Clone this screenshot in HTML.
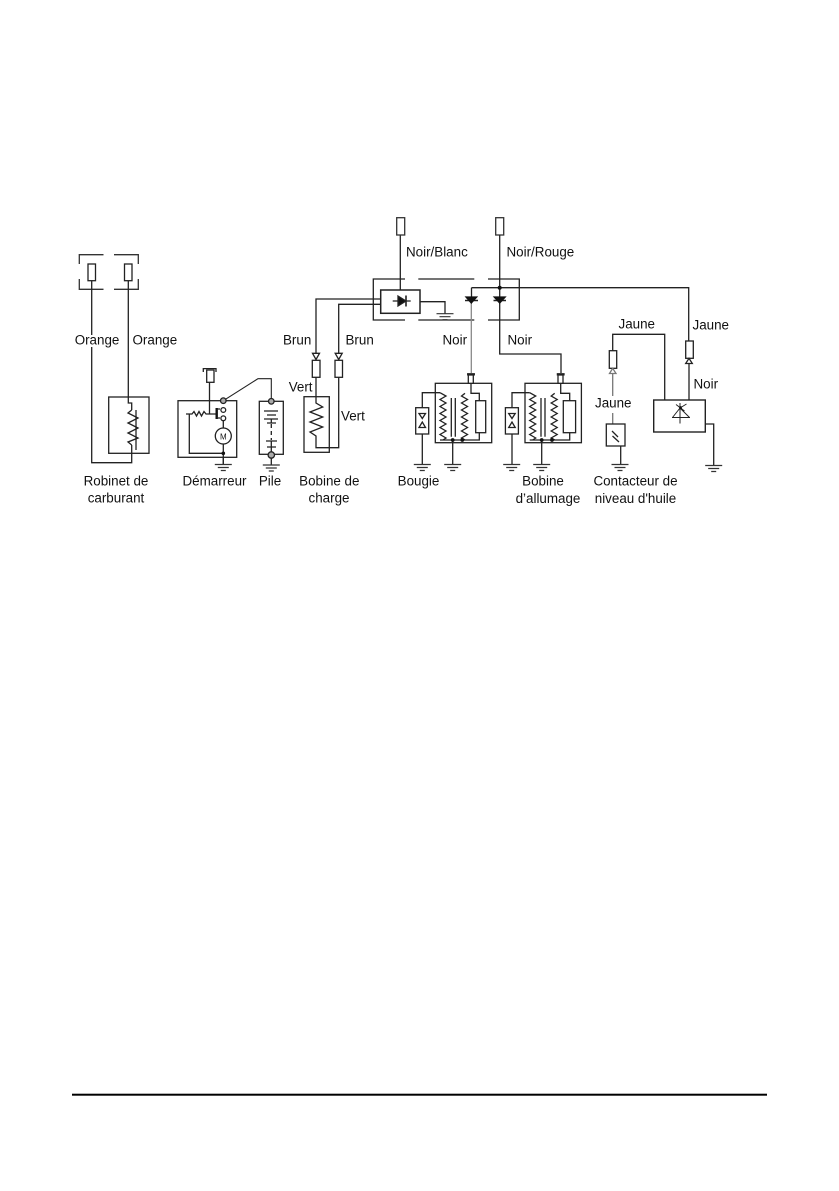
<!DOCTYPE html>
<html><head><meta charset="utf-8">
<style>
html,body{margin:0;padding:0;background:#fff;width:839px;height:1191px;overflow:hidden}
svg{display:block}
text{font-family:"Liberation Sans",sans-serif;font-size:13.4px;fill:#111}
.m{text-anchor:middle}
.soft{filter:blur(0.35px)}
</style></head>
<body>
<svg width="839" height="1191" viewBox="0 0 839 1191" xmlns="http://www.w3.org/2000/svg">
<defs>
<g id="gnd" fill="none" stroke="#333" stroke-width="1.2">
<path d="M-8.5 0H8.5M-5.5 3H5.5M-2.5 6H2.5"/>
</g>
</defs>

<g class="soft">
<g fill="none" stroke="#222" stroke-width="1.3">
<!-- Robinet -->
<path d="M79.3 264V254.7H103.5M114 254.7H138.3V264M79.3 279V289.3H103.5M114 289.3H138.3V279" stroke="#333"/>
<rect x="88" y="264" width="7.5" height="16.7" fill="#fff"/>
<rect x="124.5" y="264" width="7.5" height="16.7" fill="#fff"/>
<path d="M91.7 280.7V462.7H131.7V445"/>
<path d="M128.3 280.7V403H131.7V410"/>
<rect x="108.7" y="397" width="40.3" height="56.3"/>
<path d="M131.7 410L128 413L138 418L128 423L138 428L128 433L138 438L128 442L131.7 445"/>
<path d="M136 410V450"/>

<!-- Démarreur -->
<rect x="178" y="400.7" width="58.7" height="56.6"/>
<path d="M203.3 372V368.6H216V372"/>
<rect x="206.7" y="370" width="7.3" height="12.3" fill="#fff"/>
<path d="M209.5 382.3V414"/>
<path d="M186 414H192L194 411.5L196.5 416L199 411.5L201.5 416L204 411.5L206 414H216.7"/>
<path d="M189.3 414V453.3H223.3V464"/>
<path d="M216.7 408V419" stroke-width="2.4" stroke="#111"/>
<path d="M216.7 409H220M216.7 418H220"/>
<circle cx="223.3" cy="410" r="2.4" fill="#fff"/>
<circle cx="223.3" cy="418.3" r="2.4" fill="#fff"/>
<path d="M223.3 420.7V428M223.3 444V453"/>
<circle cx="223.3" cy="436" r="8" fill="#fff"/>
<circle cx="223.3" cy="453.3" r="1.8" fill="#111" stroke="none"/>
<path d="M223.3 400.7L258 378.7H271.3V401" stroke-width="1.1"/>
<circle cx="223.3" cy="400.7" r="2.8" fill="#aaa"/>
<!-- Pile -->
<rect x="259.3" y="401.3" width="24" height="53"/>
<circle cx="271.3" cy="401.3" r="2.8" fill="#aaa"/>
<circle cx="271.3" cy="455" r="3.2" fill="#aaa"/>
<path d="M264 411H278M267 415H276M264 419H278M271.3 419V423M267 423H276"/>
<path d="M271.3 424V440" stroke-dasharray="4 3"/>
<path d="M266 441H277M271.3 441V447M267 447H276M271.3 447V452M271.3 458V465"/>

<!-- Boite centrale -->
<path d="M405 279H373.3V320H405M418.3 279H474.3M488 279H519.3V320H488M418.3 320H474.3"/>
<rect x="380.7" y="290" width="39.3" height="23.3" stroke-width="1.5"/>
<path d="M400.3 235V290" />
<path d="M392.7 301H410.7"/>
<path d="M398 296L406 301L398 306Z" fill="#111"/>
<path d="M406 295.5V306.5" stroke-width="1.6"/>
<path d="M420 301.7H445V313.5"/>
<rect x="396.7" y="217.7" width="8" height="17.3" fill="#fff" stroke="#333"/>
<rect x="495.7" y="217.7" width="8" height="17.3" fill="#fff" stroke="#333"/>

<path d="M380.7 299H316V353.3"/>
<path d="M380.7 304.3H338.7V353.3"/>
<path d="M312.5 353.3H319.5L316 359.5Z" fill="#fff"/>
<path d="M335.2 353.3H342.2L338.7 359.5Z" fill="#fff"/>
<rect x="312.3" y="360.3" width="7.7" height="17" fill="#fff"/>
<rect x="335" y="360.3" width="7.5" height="17" fill="#fff"/>

<!-- diodes -->
<path d="M471.5 287.7H688.7V341"/>
<path d="M499.7 235V354H561V373"/>
<path d="M471.5 287.7V299"/>
<path d="M471.3 299V373" stroke="#888"/>
<path d="M465 300.5H478M493.5 300.5H506" stroke-width="1.4"/>
<path d="M466 297H476.7L471.3 303ZM494.2 297H505.2L499.7 303Z" fill="#111" stroke="#111"/>
<circle cx="499.7" cy="287.7" r="2" fill="#111" stroke="none"/>

<!-- Bobine de charge -->
<rect x="304" y="396.7" width="25.3" height="55.6"/>
<path d="M316 377.3V403L322.7 407L310 412L322.7 417L310 422L322.7 427L310 432L316 436V447.7H338.7V377.3"/>

<!-- Jaune -->
<path d="M612.7 350.7V334.3H664.7V400"/>
<rect x="609.3" y="350.7" width="7.4" height="17.6" fill="#fff"/>
<path d="M612.7 368.3L609.5 373.5H616L612.7 368.3Z" fill="#fff" stroke="#777"/>
<path d="M612.7 373.5V396M612.7 413V424" stroke="#777"/>
<rect x="606.3" y="424" width="18.7" height="22"/>
<path d="M612 431L618 437M612.5 436L619 442"/>
<path d="M620.7 446V464"/>

<rect x="685.7" y="341" width="7.6" height="17.3" fill="#fff"/>
<path d="M689 358.3L685.7 363.5H692.3Z" fill="#fff"/>
<path d="M689 363.5V400"/>
<rect x="653.7" y="400" width="51.6" height="32" stroke-width="1.4"/>
<path d="M680 403V423.5M672 417.5H690M680 408L672.5 417.5M680 408L689.5 417.5M680 408L686.5 404M676 404.5L684.5 411" stroke-width="1"/>
<path d="M680 406.5L681 409" stroke-width="2.5" stroke="#111"/>
<path d="M705.3 424H713.7V465"/>
</g>

<!-- Bobines allumage -->
<g fill="none" stroke="#222" stroke-width="1.3">
<g>
<rect x="435.3" y="383.3" width="56.4" height="59.4"/>
<path d="M467.7 375.5V373.8H474.3V375.5"/>
<rect x="468.3" y="375" width="5" height="8.3" fill="#fff"/>
<path d="M422.3 407.7V392.7H440M422.3 434V464.3"/>
<rect x="415.7" y="407.7" width="13" height="26.3"/>
<path d="M419 413.5H425.5L422.3 418.5Z" fill="#fff"/>
<path d="M419 427.5H425.5L422.3 422Z" fill="#fff"/>
<path d="M440 392.7L446 396L440 399.5L446 403L440 406.5L446 410L440 413.5L446 417L440 420.5L446 424L440 427.5L446 431L440 434.5L446 438L443 440"/>
<path d="M451.3 398V436.7M455.3 398V436.7"/>
<path d="M465 393.3L461.5 396L467.5 399.5L461.5 403L467.5 406.5L461.5 410L467.5 413.5L461.5 417L467.5 420.5L461.5 424L467.5 427.5L461.5 431L467.5 434.5L461.5 438L465 440"/>
<path d="M471 383.3V393.3H479.3V400.7M479.3 432.7V440H440"/>
<rect x="475.7" y="400.7" width="10" height="32"/>
<path d="M452.7 440V464.3"/>
<circle cx="452.7" cy="440" r="1.9" fill="#111" stroke="none"/>
<circle cx="462.3" cy="440" r="1.9" fill="#111" stroke="none"/>
</g>
<g transform="translate(89.7 0)">
<rect x="435.3" y="383.3" width="56.4" height="59.4"/>
<path d="M467.7 375.5V373.8H474.3V375.5"/>
<rect x="468.3" y="375" width="5" height="8.3" fill="#fff"/>
<path d="M422.3 407.7V392.7H440M422.3 434V464.3"/>
<rect x="415.7" y="407.7" width="13" height="26.3"/>
<path d="M419 413.5H425.5L422.3 418.5Z" fill="#fff"/>
<path d="M419 427.5H425.5L422.3 422Z" fill="#fff"/>
<path d="M440 392.7L446 396L440 399.5L446 403L440 406.5L446 410L440 413.5L446 417L440 420.5L446 424L440 427.5L446 431L440 434.5L446 438L443 440"/>
<path d="M451.3 398V436.7M455.3 398V436.7"/>
<path d="M465 393.3L461.5 396L467.5 399.5L461.5 403L467.5 406.5L461.5 410L467.5 413.5L461.5 417L467.5 420.5L461.5 424L467.5 427.5L461.5 431L467.5 434.5L461.5 438L465 440"/>
<path d="M471 383.3V393.3H480V400.7M480 432.7V440H440"/>
<rect x="473.6" y="400.7" width="12.3" height="32"/>
<path d="M452 440V464.3"/>
<circle cx="452" cy="440" r="1.9" fill="#111" stroke="none"/>
<circle cx="462.3" cy="440" r="1.9" fill="#111" stroke="none"/>
</g>
</g>

<!-- grounds -->
<path d="M223.3 457.3V464" stroke="#222" stroke-width="1.3"/>
<use href="#gnd" x="223.3" y="464.5"/>
<use href="#gnd" x="271.3" y="465"/>
<use href="#gnd" x="445" y="313.7"/>
<use href="#gnd" x="422.3" y="464.5"/>
<use href="#gnd" x="452.7" y="464.5"/>
<use href="#gnd" x="511.7" y="464.5"/>
<use href="#gnd" x="541.7" y="464.5"/>
<use href="#gnd" x="620" y="464.5"/>
<use href="#gnd" x="713.7" y="465.5"/>

<!-- M -->
<text x="223.3" y="439.5" class="m" style="font-size:8px">M</text>

<!-- labels on wires -->
<rect x="74" y="335" width="44" height="12" fill="#fff"/>
<text x="74.7" y="344.5">Orange</text>
<text x="132.5" y="344.5">Orange</text>
<text x="283" y="344.5">Brun</text>
<text x="345.5" y="344.5">Brun</text>
<text x="442.5" y="344.5">Noir</text>
<text x="507.5" y="344.5">Noir</text>
<text x="406" y="256.5">Noir/Blanc</text>
<text x="506.5" y="256.5">Noir/Rouge</text>
<text x="288.7" y="391.5">Vert</text>
<text x="341" y="420.5">Vert</text>
<text x="618.5" y="328.5">Jaune</text>
<text x="692.5" y="329.5">Jaune</text>
<text x="693.5" y="388.5">Noir</text>
<text x="595" y="407.5">Jaune</text>

<text x="116" y="485.5" class="m">Robinet de</text>
<text x="116" y="502.5" class="m">carburant</text>
<text x="214.5" y="485.5" class="m">Démarreur</text>
<text x="270" y="485.5" class="m">Pile</text>
<text x="329.3" y="485.5" class="m">Bobine de</text>
<text x="329" y="502.5" class="m">charge</text>
<text x="418.5" y="485.5" class="m">Bougie</text>
<text x="543" y="485.5" class="m">Bobine</text>
<text x="548" y="503" class="m">d’allumage</text>
<text x="635.5" y="485.5" class="m">Contacteur de</text>
<text x="635.5" y="503" class="m">niveau d'huile</text>
</g>

<rect x="72" y="1093.7" width="695" height="2" fill="#000"/>
</svg>
</body></html>
